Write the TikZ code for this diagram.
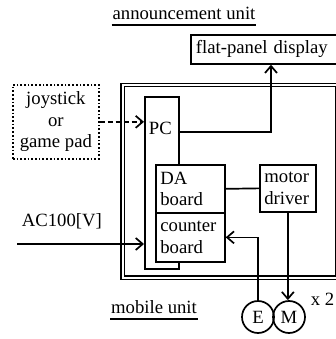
\documentclass[tikz,border=0pt]{standalone}
\usepackage{fontspec}
\setmainfont{Liberation Serif}
\usetikzlibrary{arrows.meta}
\begin{document}
\begin{tikzpicture}[x=1pt,y=-1pt,
  font=\fontsize{18.7}{21.5}\selectfont,
  line width=1.7pt,
  box/.style={draw, rectangle, anchor=north west, inner xsep=4.5pt, inner ysep=0pt, align=left},
  tip/.style={-{Straight Barb[length=7pt,width=12pt]}},
  motorc/.style={draw, circle, minimum size=32pt, inner sep=0pt}]
\useasboundingbox (0,0) rectangle (336,339);
% mobile unit frame
\draw[line width=1.4pt, double, double distance=2pt] (122.8,85) rectangle (337,277.8);
\node[anchor=base, inner sep=0pt] (annunit) at (184,20) {announcement unit};
\draw ([yshift=-5pt]annunit.base west) -- ([yshift=-5pt]annunit.base east);
\node[anchor=base, inner sep=0pt] (mobunit) at (154,313) {mobile unit};
\draw ([yshift=-6pt]mobunit.base west) -- ([yshift=-6pt]mobunit.base east);
\node[box, text width=142pt, inner xsep=5pt, minimum height=29pt] (disp) at (190,34) {flat-panel display};
\node[draw, dotted, anchor=north west, minimum width=86pt, minimum height=74pt, align=center, inner sep=0pt] (joy) at (12,84) {joystick\\or\\game pad};
% boards
\node[box, minimum width=34pt, minimum height=172pt] (pc) at (144,96) {};
\node[anchor=base west, inner sep=0pt] (pctext) at (148,135) {PC};
\node[box, fill=white, text width=60pt, minimum height=48pt] (da) at (155,164) {DA\\board};
\node[box, fill=white, text width=60pt, minimum height=49pt] (cnt) at (155,212) {counter\\board};
\node[box, text width=47pt, minimum height=47pt] (mot) at (259,164) {motor\\driver};
\node[motorc] (enc) at (258,317) {E};
\node[motorc] (mtr) at (289,317) {M};
\node[anchor=base west, inner sep=0pt] (twice) at (310,305) {x 2};
\node[anchor=base west, inner sep=0pt] (aclabel) at (21,226) {AC100[V]};
\coordinate (acin) at (17,244);
% connectors
\draw[tip, dash pattern=on 5pt off 3pt] (joy.east) -- (joy.east -| pc.west);
\draw[tip] ([yshift=-36pt]pc.north east) -| ([xshift=81pt]disp.south west);
\draw (da.east) -- (mot.west);
\draw[tip] (mot.south) -- (mot.south |- mtr.north);
\draw[tip] (enc.north) |- (cnt.east);
\draw[tip] (acin) -- (acin -| pc.west);
\end{tikzpicture}
\end{document}
